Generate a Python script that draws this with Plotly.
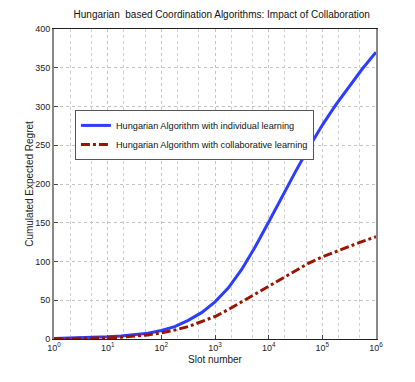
import plotly.graph_objects as go

# slot numbers (log10 exponent) and read-off regret values
log_slots = [0, 0.25, 0.5, 0.75, 1, 1.25, 1.5, 1.75, 2, 2.25, 2.5, 2.75, 3,
             3.25, 3.5, 3.75, 4, 4.25, 4.5, 4.75, 5, 5.25, 5.5, 5.75, 6]
regret_individual = [0.5, 1, 1.5, 2.2, 3, 4, 5.5, 7.5, 11, 16, 24, 34, 48,
                     66, 90, 119, 151, 184, 216, 247, 276, 302, 326, 349, 370]
regret_collab = [0.3, 0.5, 0.8, 1.1, 1.5, 2.3, 3.5, 5.3, 8, 11.5, 16, 22, 29,
                 38, 48, 58, 68, 79, 89, 98, 106, 113, 119, 126, 132]

tick_exps = [0, 1, 2, 3, 4, 5, 6]

slots = [10 ** e for e in log_slots]

fig = go.Figure()

fig.add_trace(go.Scatter(
    x=slots, y=regret_individual, mode='lines',
    name='Hungarian Algorithm with individual learning',
    line=dict(color='#2b3dff', width=3)
))
fig.add_trace(go.Scatter(
    x=slots, y=regret_collab, mode='lines',
    name='Hungarian Algorithm with collaborative learning',
    line=dict(color='#9a1500', width=3, dash='dashdot')
))

fig.update_layout(
    width=415, height=382,
    # page body adds an 8px offset, so margins are reduced accordingly
    margin=dict(l=46, r=47, t=21, b=51, autoexpand=False),
    paper_bgcolor='white', plot_bgcolor='white',
    font=dict(family='Liberation Sans, Arial, sans-serif', size=9, color='#222'),
    title=dict(text='Hungarian  based Coordination Algorithms: Impact of Collaboration',
               x=0.515, xanchor='center', y=0.982, yanchor='middle',
               font=dict(size=10, color='#111')),
    showlegend=True,
    legend=dict(x=0.065, y=0.739, xanchor='left', yanchor='top',
                bgcolor='white', bordercolor='#555', borderwidth=1,
                font=dict(size=9.2, color='#111'), tracegroupgap=0,
                itemwidth=30),
)

fig.update_xaxes(
    type='log', range=[0, 6], automargin=False,
    tickvals=[10 ** e for e in tick_exps],
    ticktext=['10<sup>%d</sup>' % e for e in tick_exps],
    title=dict(text='Slot number', standoff=4, font=dict(size=10)),
    showline=True, linecolor='#222', linewidth=1, mirror=True,
    ticks='inside', ticklen=4, tickcolor='#444',
    showgrid=True, gridcolor='#c4c4c4', griddash='dot', gridwidth=1,
    minor=dict(showgrid=True, gridcolor='#d0d0d0', griddash='dot', ticks=''),
    zeroline=False,
)
fig.update_yaxes(
    range=[0, 400], dtick=50, automargin=False,
    title=dict(text='Cumulated Expected Regret', standoff=0, font=dict(size=10)),
    showline=True, linecolor='#888', linewidth=2, mirror=True,
    ticks='inside', ticklen=4, tickcolor='#444',
    showgrid=True, gridcolor='#c4c4c4', griddash='dot', gridwidth=1,
    zeroline=False,
)

fig.write_html("out.html")
